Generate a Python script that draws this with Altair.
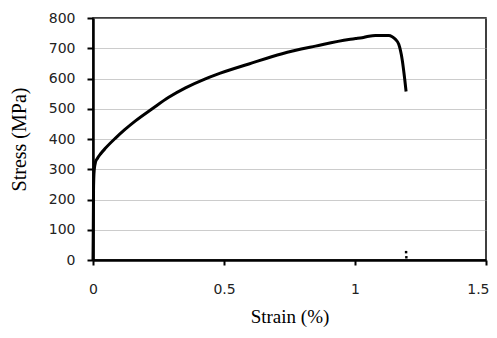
import altair as alt
import pandas as pd

strain = [0, 0.001, 0.002, 0.003, 0.005, 0.01, 0.016, 0.03, 0.048, 0.086, 0.12, 0.162, 0.226,
          0.289, 0.353, 0.429, 0.468, 0.595, 0.722, 0.849, 0.976, 1.002, 1.027, 1.053,
          1.078, 1.129, 1.142, 1.155, 1.167, 1.180, 1.190, 1.195]
stress = [0, 100, 230, 270, 300, 325, 335, 352, 370, 403, 430, 460, 500,
          538, 569, 599, 612, 648, 682, 707, 729, 732, 735, 740,
          742, 742, 738, 729, 713, 663, 596, 557]

frag_strain = [1.195, 1.196]
frag_stress = [26, 9]

x_ticks = [0, 0.5, 1, 1.5]
y_ticks = [0, 100, 200, 300, 400, 500, 600, 700, 800]

df = pd.concat([
    pd.DataFrame({"strain": strain, "stress": stress, "i": list(range(len(strain))), "kind": "curve"}),
    pd.DataFrame({"strain": frag_strain, "stress": frag_stress, "i": [0, 1], "kind": "frag"}),
], ignore_index=True)

x_enc = alt.X("strain:Q", title="Strain (%)",
              scale=alt.Scale(domain=[0, 1.5], nice=False),
              axis=alt.Axis(values=x_ticks, grid=False,
                            labelExpr="format(datum.value, '')",
                            labelAlign={"condition": {"test": "datum.value == 1.5", "value": "right"}, "value": "center"},
                            labelOffset={"condition": {"test": "datum.value == 1.5", "value": 3}, "value": 0},
                            labelOverlap=False, labelFlush=False, labelBound=False,
                            tickSize=5, tickWidth=2, tickColor="black",
                            domainColor="black", domainWidth=2.5,
                            labelFont="DejaVu Sans", labelFontSize=14, labelColor="#222",
                            labelPadding=17, titleFont="Liberation Serif", titleFontSize=19,
                            titleFontWeight="normal", titleColor="black", titlePadding=11))
y_enc = alt.Y("stress:Q", title="Stress (MPa)",
              scale=alt.Scale(domain=[0, 800], nice=False),
              axis=alt.Axis(values=y_ticks, grid=True, gridColor="#999", gridDash=[1, 1],
                            labelOverlap=False, labelFlush=False, labelBound=False,
                            gridWidth=1, tickSize=6, tickWidth=2, tickColor="black",
                            domainColor="black", domainWidth=2.5,
                            labelFont="DejaVu Sans", labelFontSize=14, labelColor="#222",
                            labelPadding=12, titleFont="Liberation Serif", titleFontSize=20,
                            titleFontWeight="normal", titleColor="black", titlePadding=19))

base = alt.Chart(df).encode(x=x_enc, y=y_enc)
line = base.transform_filter("datum.kind == 'curve'").mark_line(
    color="black", strokeWidth=3, interpolate="monotone").encode(order="i:Q")
dots = base.transform_filter("datum.kind == 'frag'").mark_square(
    color="black", size=6, opacity=1)

chart = alt.layer(line, dots).properties(
    width=393, height=242,
    autosize=alt.AutoSizeParams(type="none"),
    padding={"left": 85, "top": 10, "right": 3, "bottom": 70},
).configure_view(stroke="black", strokeWidth=1.5)

chart.save("out.html", embed_options={"renderer": "svg", "actions": False})
